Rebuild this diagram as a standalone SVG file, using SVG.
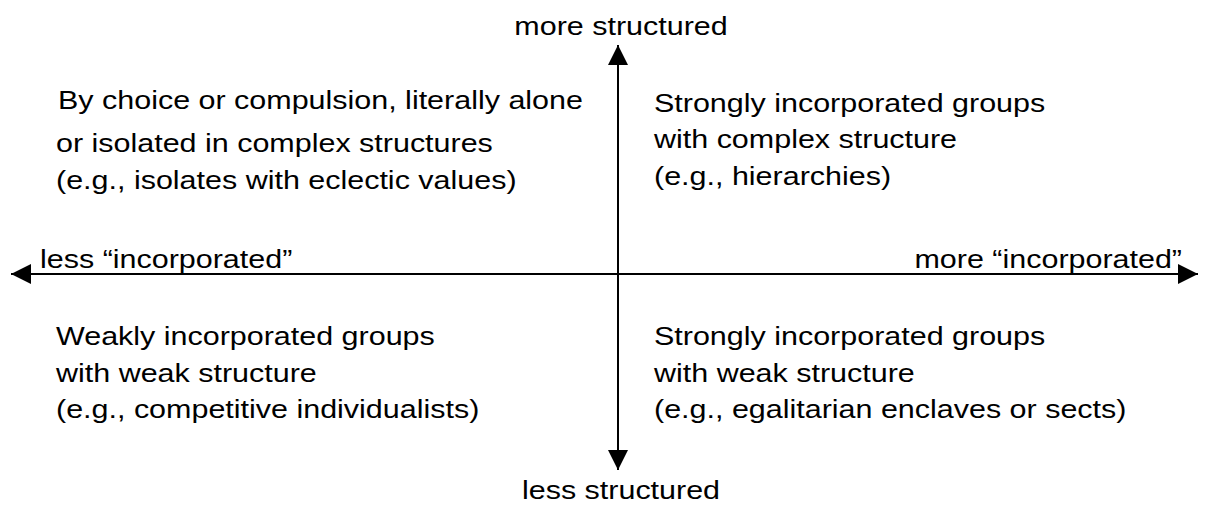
<svg xmlns="http://www.w3.org/2000/svg" width="1206" height="507" viewBox="0 0 1206 507">
<style>
text { font-family: "Liberation Sans", Arial, sans-serif; font-size: 26.5px; fill: #000; }
.ax { stroke: #000; stroke-width: 2; fill: none; }
</style>
<defs>
<marker id="ah" viewBox="0 0 20 20" refX="20" refY="10" markerWidth="20" markerHeight="20" markerUnits="userSpaceOnUse" orient="auto">
<path d="M0,0 L20,10 L0,20 Z" fill="#000"/>
</marker>
</defs>
<rect width="1206" height="507" fill="#fff"/>
<g id="connectors">
<line class="ax" x1="618" y1="274" x2="618" y2="45" marker-end="url(#ah)"/>
<line class="ax" x1="618" y1="274" x2="618" y2="470" marker-end="url(#ah)"/>
<line class="ax" x1="618" y1="274" x2="11" y2="274" marker-end="url(#ah)"/>
<line class="ax" x1="618" y1="274" x2="1198" y2="274" marker-end="url(#ah)"/>
</g>
<g id="label-top"><text transform="translate(621,35) scale(1.15,1)" text-anchor="middle">more structured</text></g>
<g id="label-bottom"><text transform="translate(621,499) scale(1.15,1)" text-anchor="middle">less structured</text></g>
<g id="label-left"><text transform="translate(40,268) scale(1.15,1)">less “incorporated”</text></g>
<g id="label-right"><text transform="translate(1182,268) scale(1.15,1)" text-anchor="end">more “incorporated”</text></g>
<g id="q-top-left">
<text transform="translate(58,109) scale(1.15,1)">By choice or compulsion, literally alone</text>
<text transform="translate(56,152) scale(1.15,1)">or isolated in complex structures</text>
<text transform="translate(56,189) scale(1.15,1)">(e.g., isolates with eclectic values)</text>
</g>
<g id="q-top-right">
<text transform="translate(654,112) scale(1.15,1)">Strongly incorporated groups</text>
<text transform="translate(654,148) scale(1.15,1)">with complex structure</text>
<text transform="translate(654,185) scale(1.15,1)">(e.g., hierarchies)</text>
</g>
<g id="q-bottom-left">
<text transform="translate(56,345) scale(1.15,1)">Weakly incorporated groups</text>
<text transform="translate(56,382) scale(1.15,1)">with weak structure</text>
<text transform="translate(56,418) scale(1.15,1)">(e.g., competitive individualists)</text>
</g>
<g id="q-bottom-right">
<text transform="translate(654,345) scale(1.15,1)">Strongly incorporated groups</text>
<text transform="translate(654,382) scale(1.15,1)">with weak structure</text>
<text transform="translate(654,418) scale(1.15,1)">(e.g., egalitarian enclaves or sects)</text>
</g>
</svg>
